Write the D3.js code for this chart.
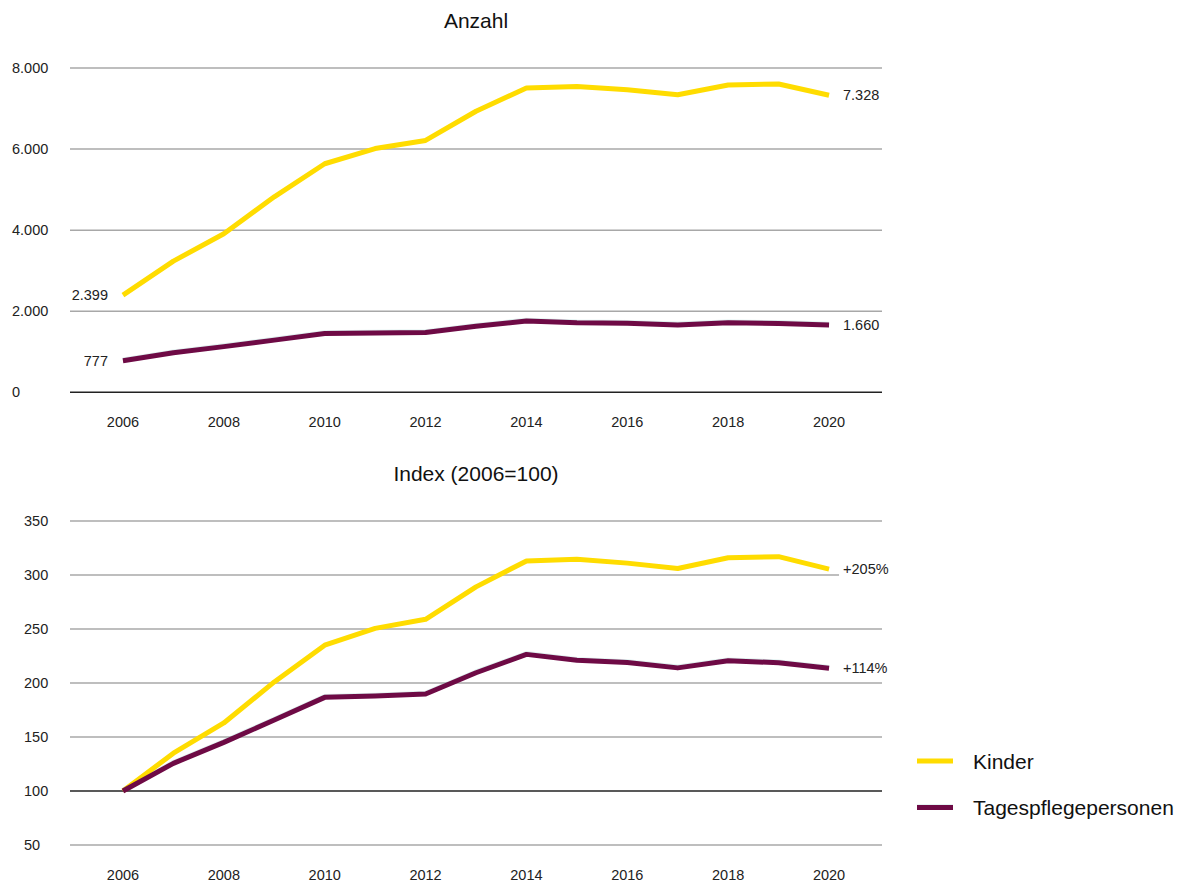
<!DOCTYPE html>
<html>
<head>
<meta charset="utf-8">
<script src="https://cdn.jsdelivr.net/npm/d3@7/dist/d3.min.js"></script>
<style>
  html, body { margin: 0; padding: 0; background: #fff; }
  svg { display: block; font-family: "Liberation Sans", Arial, sans-serif; }
</style>
</head>
<body>
<svg id="chart" width="1181" height="884"></svg>
<script>
// ---- Data ----
const years = [2006, 2007, 2008, 2009, 2010, 2011, 2012, 2013, 2014, 2015, 2016, 2017, 2018, 2019, 2020];
const xTickYears = [2006, 2008, 2010, 2012, 2014, 2016, 2018, 2020];

const kinderAnzahl = [2399, 3236, 3910, 4822, 5638, 6012, 6213, 6933, 7509, 7545, 7461, 7341, 7581, 7605, 7328];
const tagesAnzahl  = [777, 976, 1127, 1287, 1451, 1461, 1475, 1628, 1760, 1717, 1702, 1663, 1714, 1700, 1660];

const kinderIndex = [100, 135, 163, 201, 235, 250.6, 259, 289, 313, 314.5, 311, 306, 316, 317, 305.5];
const tagesIndex  = [100, 125.6, 145, 165.7, 186.7, 188, 189.8, 209.5, 226.5, 221, 219, 214, 220.6, 218.8, 213.6];

const anzahlTicks = [0, 2000, 4000, 6000, 8000];
const indexTicks = [50, 100, 150, 200, 250, 300, 350];

const seriesNames = ["Kinder", "Tagespflegepersonen"];
const colors = { "Kinder": "#FFDC00", "Tagespflegepersonen": "#6E0A45" };

const titles = ["Anzahl", "Index (2006=100)"];
const endLabelsAnzahl = ["7.328", "1.660"];
const startLabelsAnzahl = ["2.399", "777"];
const endLabelsIndex = ["+205%", "+114%"];

// ---- Layout ----
const svg = d3.select("#chart");
const fmtDE = v => d3.format(",")(v).replace(/,/g, ".");

const x = d3.scalePoint().domain(years).range([70, 882]).padding(1.05);

function panel(opts) {
  const y = d3.scaleLinear().domain(opts.domain).range(opts.yRange);
  const g = svg.append("g");

  g.append("text")
    .attr("x", 476).attr("y", opts.titleY)
    .attr("text-anchor", "middle").attr("dominant-baseline", "central")
    .attr("font-size", 21).attr("fill", "#111")
    .text(opts.title);

  g.selectAll("line.grid").data(opts.ticks).join("line")
    .attr("x1", 70).attr("x2", 882)
    .attr("y1", d => y(d)).attr("y2", d => y(d))
    .attr("stroke", d => d === opts.baseline ? "#222" : "#a8a8a8")
    .attr("stroke-width", 1.5);

  g.selectAll("text.ytick").data(opts.ticks).join("text")
    .attr("x", opts.yLabelX).attr("y", d => y(d))
    .attr("dominant-baseline", "central")
    .attr("font-size", 14.5).attr("fill", "#222")
    .text(d => opts.yFmt(d));

  g.selectAll("text.xtick").data(xTickYears).join("text")
    .attr("x", d => x(d)).attr("y", opts.xLabelY)
    .attr("text-anchor", "middle").attr("dominant-baseline", "central")
    .attr("font-size", 14.5).attr("fill", "#222")
    .text(d => d);

  const line = d3.line().x((d, i) => x(years[i])).y(d => y(d));

  // faint teal edge under purple line
  g.append("path").datum(opts.series[1])
    .attr("d", line).attr("fill", "none")
    .attr("stroke", "#9fd3cf").attr("stroke-width", 5)
    .attr("stroke-opacity", 0.35)
    .attr("transform", "translate(0,-0.8)")
    .attr("stroke-linejoin", "round");

  opts.series.forEach((s, i) => {
    g.append("path").datum(s)
      .attr("d", line).attr("fill", "none")
      .attr("stroke", colors[seriesNames[i]])
      .attr("stroke-width", 5)
      .attr("stroke-linejoin", "round");
  });

  opts.endLabels.forEach((lab, i) => {
    const s = opts.series[i];
    const yy = y(s[s.length - 1]);
    const xx = x(years[years.length - 1]) + 14;
    const t = g.append("text")
      .attr("x", xx).attr("y", yy)
      .attr("dominant-baseline", "central")
      .attr("font-size", 14.5).attr("fill", "#222")
      .text(lab);
    const bb = t.node().getBBox();
    g.insert("rect", () => t.node())
      .attr("x", bb.x - 4).attr("y", bb.y)
      .attr("width", bb.width + 8).attr("height", bb.height)
      .attr("fill", "#fff");
  });

  if (opts.startLabels) {
    opts.startLabels.forEach((lab, i) => {
      const s = opts.series[i];
      g.append("text")
        .attr("x", x(years[0]) - 15).attr("y", y(s[0]))
        .attr("text-anchor", "end").attr("dominant-baseline", "central")
        .attr("font-size", 14.5).attr("fill", "#222")
        .text(lab);
    });
  }
}

panel({
  title: titles[0], titleY: 20,
  domain: [0, 8000], yRange: [392.3, 68], ticks: anzahlTicks, baseline: 0,
  yLabelX: 12, yFmt: fmtDE, xLabelY: 422,
  series: [kinderAnzahl, tagesAnzahl],
  endLabels: endLabelsAnzahl, startLabels: startLabelsAnzahl
});

panel({
  title: titles[1], titleY: 473,
  domain: [50, 350], yRange: [845, 521], ticks: indexTicks, baseline: 100,
  yLabelX: 24, yFmt: d => d, xLabelY: 875,
  series: [kinderIndex, tagesIndex],
  endLabels: endLabelsIndex
});

// legend
const legend = svg.append("g");
seriesNames.forEach((name, i) => {
  const ly = 761 + i * 46.5;
  if (i === 1) {
    legend.append("line").attr("x1", 917).attr("x2", 953)
      .attr("y1", ly - 0.8).attr("y2", ly - 0.8)
      .attr("stroke", "#9fd3cf").attr("stroke-opacity", 0.35).attr("stroke-width", 5);
  }
  legend.append("line")
    .attr("x1", 917).attr("x2", 953).attr("y1", ly).attr("y2", ly)
    .attr("stroke", colors[name]).attr("stroke-width", 5);
  legend.append("text")
    .attr("x", 973).attr("y", ly)
    .attr("dominant-baseline", "central")
    .attr("font-size", 21).attr("fill", "#111")
    .text(name);
});
</script>
</body>
</html>
